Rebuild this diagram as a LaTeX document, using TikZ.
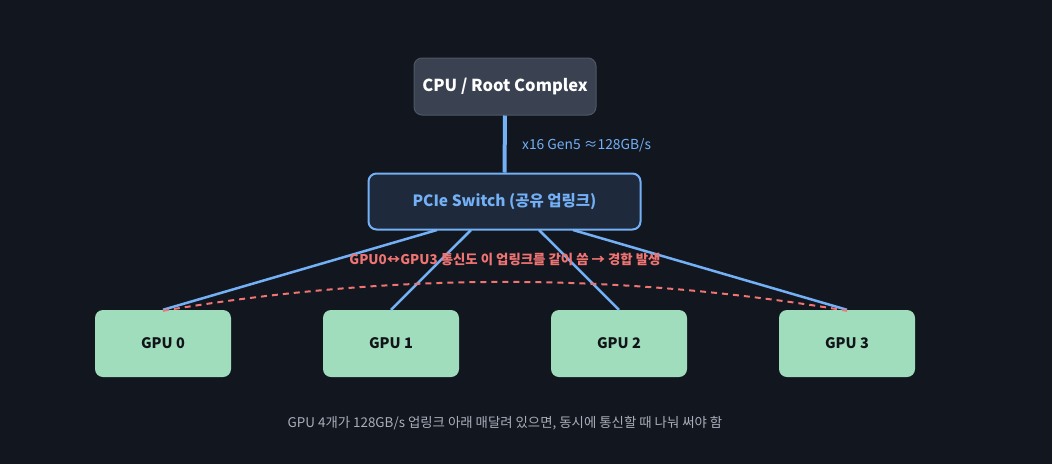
\documentclass[tikz,border=0pt]{standalone}
\usepackage{fontspec}
\setmainfont{Noto Sans CJK KR}
\definecolor{bg}{HTML}{12161F}
\definecolor{cpufill}{HTML}{3A4150}
\definecolor{cpuline}{HTML}{4E5666}
\definecolor{swfill}{HTML}{1E293B}
\definecolor{blue}{HTML}{74B0F5}
\definecolor{gpufill}{HTML}{A0DDBC}
\definecolor{gputext}{HTML}{111418}
\definecolor{red}{HTML}{F07472}
\definecolor{gray}{HTML}{A9AFBA}
\begin{document}
\begin{tikzpicture}[x=1pt,y=-1pt,
  cpubox/.style={draw=cpuline,line width=1pt,fill=cpufill,rounded corners=8pt,minimum width=182pt,minimum height=57pt,inner sep=0pt,text=white,font=\fontsize{16.5}{19}\selectfont\bfseries},
  swbox/.style={draw=blue,line width=2pt,fill=swfill,rounded corners=8pt,minimum width=272pt,minimum height=56pt,inner sep=0pt,text=blue,font=\fontsize{15.5}{18}\selectfont\bfseries},
  gpubox/.style={fill=gpufill,rounded corners=8pt,minimum width=136pt,minimum height=67pt,inner sep=0pt,text=gputext,font=\fontsize{14.5}{17}\selectfont\bfseries},
  link/.style={draw=blue,line width=2.5pt},
  shared/.style={draw=red,line width=2pt,dash pattern=on 6pt off 5pt}]
\fill[bg] (0,0) rectangle (1052,464);
\useasboundingbox (0,0) rectangle (1052,464);
\node[cpubox] (cpu) at (505,86.5) {CPU / Root Complex};
\node[swbox] (sw) at (504.5,201.5) {PCIe Switch (공유 업링크)};
\node[gpubox] (g0) at (163,343.5) {GPU 0};
\node[gpubox] (g1) at (391,343.5) {GPU 1};
\node[gpubox] (g2) at (619,343.5) {GPU 2};
\node[gpubox] (g3) at (847,343.5) {GPU 3};
\draw[draw=blue,line width=4pt] (cpu.south) -- (sw.north);
\node[text=blue,font=\fontsize{13.8}{16}\selectfont,anchor=west,inner sep=0pt] (bw) at (522,145) {x16 Gen5 ≈128GB/s};
\coordinate (s0) at (437,230);
\coordinate (s1) at (471,230);
\coordinate (s2) at (539,230);
\coordinate (s3) at (573,230);
\draw[link] (s0) -- (g0.north);
\draw[link] (s1) -- (g1.north);
\draw[link] (s2) -- (g2.north);
\draw[link] (s3) -- (g3.north);
\draw[shared] ([yshift=-1pt]g0.north) .. controls (391,272.3) and (619,272.3) .. ([yshift=-1pt]g3.north);
\node[text=red,font=\fontsize{13.4}{16}\selectfont\bfseries] (warn) at (505,259) {GPU0↔GPU3 통신도 이 업링크를 같이 씀 → 경합 발생};
\node[text=gray,font=\fontsize{13.4}{16}\selectfont] (note) at (505,423) {GPU 4개가 128GB/s 업링크 아래 매달려 있으면, 동시에 통신할 때 나눠 써야 함};
\end{tikzpicture}
\end{document}
